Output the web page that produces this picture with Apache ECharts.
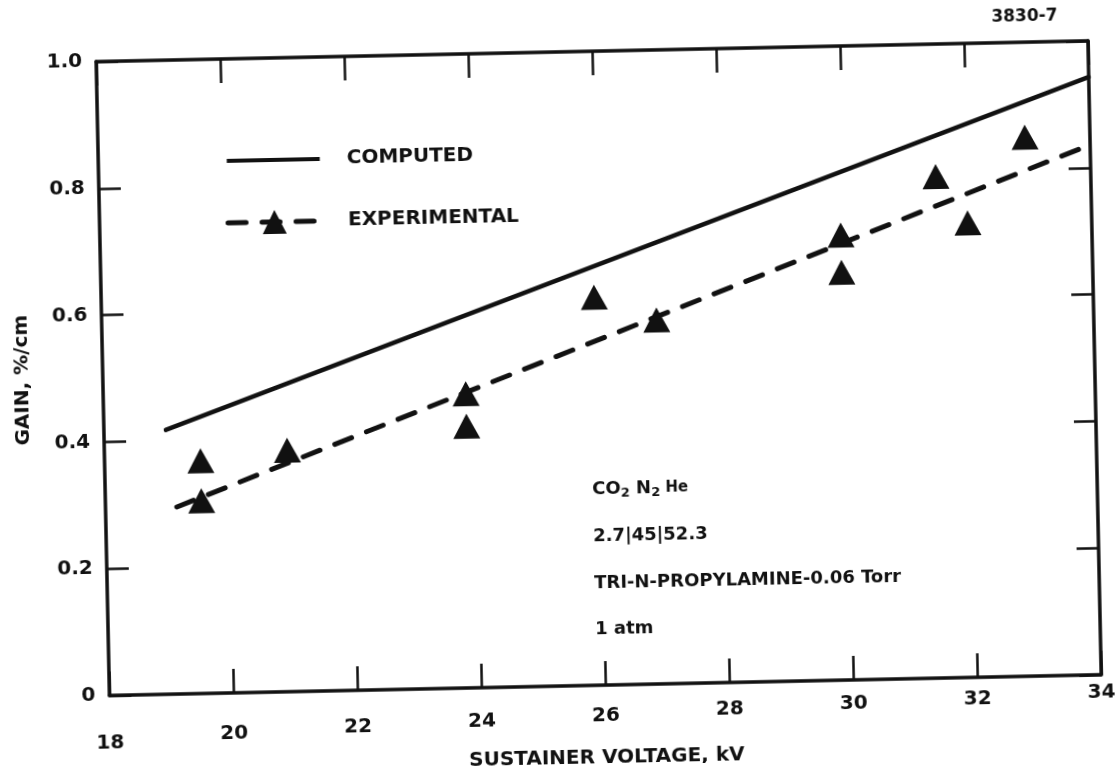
<!DOCTYPE html>
<html>
<head>
<meta charset="utf-8">
<script src="https://cdn.jsdelivr.net/npm/echarts@6/dist/echarts.min.js"></script>
<style>
  html, body { margin: 0; padding: 0; background: #fff; overflow: hidden; }
  /* the drafted sheet sits slightly askew on the page */
  #chart { width: 1118px; height: 766px; transform: rotate(-1.2deg); transform-origin: 559px 383px; }
</style>
</head>
<body>
<div id="chart"></div>
<script>
// Sustainer voltage axis (kV) and gain axis (%/cm)
const voltageRange = [18, 34];
const voltageStep = 2;
const gainRange = [0, 1.0];
const gainStep = 0.2;

// Computed gain curve (straight line)
const computedVoltage = [19.0, 34.0];
const computedGain = [0.417, 0.943];

// Experimental points
const experimentalVoltage = [19.55, 19.55, 20.95, 23.85, 23.85, 25.95, 26.95, 29.95, 29.95, 31.5, 32.0, 32.95];
const experimentalGain    = [0.367, 0.304, 0.381, 0.464, 0.413, 0.612, 0.574, 0.702, 0.643, 0.791, 0.717, 0.850];

// Dashed line drawn through the experimental points
const fitVoltage = [19.15, 34.0];
const fitGain = [0.295, 0.836];

// Gas mixture notes
const mixtureLines = [
  '{t|CO}{s|2}{t| N}{s|2}{h| He}',
  '2.7|45|52.3',
  'TRI-N-PROPYLAMINE-0.06 Torr',
  '1 atm'
];

const INK = '#111';
const FONT = '"DejaVu Sans", "Liberation Sans", sans-serif';

const pairs = (xs, ys) => xs.map((x, i) => [x, ys[i]]);

// hand-lettered tick numbers drift lower toward the left end
const labelDrop = [38, 31, 27, 24, 21, 17, 14, 12, 8];
const xRich = {};
labelDrop.forEach((d, i) => {
  xRich['t' + i] = { padding: [d, 0, 0, 0], fontFamily: FONT, fontWeight: 'bold', fontSize: 20, color: INK };
});

const axisLineStyle = { color: INK, width: 3.5 };
const dashStyle = { color: INK, width: 5, type: [18, 16], cap: 'round' };

const chart = echarts.init(document.getElementById('chart'), null, { renderer: 'canvas' });
chart.setOption({
  animation: false,
  backgroundColor: '#fff',
  grid: { left: 103, right: 23, top: 52, bottom: 80, outerBoundsMode: 'none' },
  legend: {
    orient: 'vertical',
    left: 224,
    top: 139,
    itemWidth: 93,
    itemHeight: 30,
    itemGap: 40,
    selectedMode: false,
    itemStyle: { borderWidth: 0 },
    textStyle: { fontFamily: FONT, fontWeight: 'bold', fontSize: 20, color: INK, padding: [0, 0, 0, 22] },
    data: [
      { name: 'COMPUTED', icon: 'path://M0,0H93V4H0Z', itemStyle: { color: INK } },
      { name: 'EXPERIMENTAL', itemStyle: { color: INK, opacity: 1 }, lineStyle: dashStyle }
    ]
  },
  xAxis: [
    {
      type: 'value', min: voltageRange[0], max: voltageRange[1], interval: voltageStep,
      position: 'bottom',
      name: 'SUSTAINER VOLTAGE, kV', nameLocation: 'middle', nameGap: 56,
      nameTextStyle: { fontFamily: FONT, fontWeight: 'bold', fontSize: 20, color: INK },
      axisLine: { show: true, onZero: false, lineStyle: axisLineStyle },
      axisTick: { show: true, inside: true, length: 24, lineStyle: { color: INK, width: 2.5 } },
      axisLabel: {
        margin: 0, hideOverlap: false, showMinLabel: true, showMaxLabel: true,
        formatter: (v, i) => '{t' + i + '|' + v + '}',
        rich: xRich
      },
      splitLine: { show: false }
    },
    {
      type: 'value', min: voltageRange[0], max: voltageRange[1], interval: voltageStep,
      position: 'top',
      axisLine: { show: true, onZero: false, lineStyle: axisLineStyle },
      axisTick: { show: true, inside: true, length: 24, lineStyle: { color: INK, width: 2.5 } },
      axisLabel: { show: false },
      splitLine: { show: false }
    }
  ],
  yAxis: [
    {
      type: 'value', min: gainRange[0], max: gainRange[1], interval: gainStep,
      position: 'left',
      name: 'GAIN, %/cm', nameLocation: 'middle', nameGap: 70,
      nameTextStyle: { fontFamily: FONT, fontWeight: 'bold', fontSize: 20, color: INK },
      axisLine: { show: true, onZero: false, lineStyle: axisLineStyle },
      axisTick: { show: true, inside: true, length: 22, lineStyle: { color: INK, width: 2.5 } },
      axisLabel: {
        margin: 14, fontFamily: FONT, fontWeight: 'bold', fontSize: 20, color: INK,
        showMinLabel: true, showMaxLabel: true,
        formatter: v => (v === 0 ? '0' : v.toFixed(1))
      },
      splitLine: { show: false }
    },
    {
      type: 'value', min: gainRange[0], max: gainRange[1], interval: gainStep,
      position: 'right',
      axisLine: { show: true, onZero: false, lineStyle: axisLineStyle },
      axisTick: { show: true, inside: true, length: 22, lineStyle: { color: INK, width: 2.5 } },
      axisLabel: { show: false },
      splitLine: { show: false }
    }
  ],
  series: [
    {
      name: 'COMPUTED',
      type: 'line',
      data: pairs(computedVoltage, computedGain),
      symbol: 'none',
      color: INK,
      lineStyle: { color: INK, width: 4.5, cap: 'round' },
      silent: true
    },
    {
      name: 'EXPERIMENTAL',
      type: 'line',
      data: pairs(fitVoltage, fitGain),
      symbol: 'triangle',
      showSymbol: false,
      color: INK,
      itemStyle: { color: INK, borderWidth: 0, opacity: 1 },
      lineStyle: dashStyle,
      silent: true
    },
    {
      name: 'EXPERIMENTAL',
      type: 'scatter',
      data: pairs(experimentalVoltage, experimentalGain),
      symbol: 'triangle',
      symbolSize: [27, 25],
      itemStyle: { color: INK, opacity: 1 },
      silent: true,
      z: 3
    }
  ],
  graphic: [
    {
      type: 'text', x: 1032, y: 27,
      style: { text: '3830-7', fill: INK, font: 'bold 17px ' + FONT, align: 'center', verticalAlign: 'middle' }
    },
    ...mixtureLines.map((line, i) => ({
      type: 'text', x: 590, y: [490, 537, 584, 630][i],
      style: {
        text: line, fill: INK, font: 'bold 18px ' + FONT, verticalAlign: 'middle',
        rich: {
          t: { font: 'bold 18px ' + FONT, fill: INK },
          s: { font: 'bold 13px ' + FONT, fill: INK, padding: [9, 0, 0, 0] },
          h: { font: 'bold 15px ' + FONT, fill: INK }
        }
      }
    }))
  ]
});
</script>
</body>
</html>
